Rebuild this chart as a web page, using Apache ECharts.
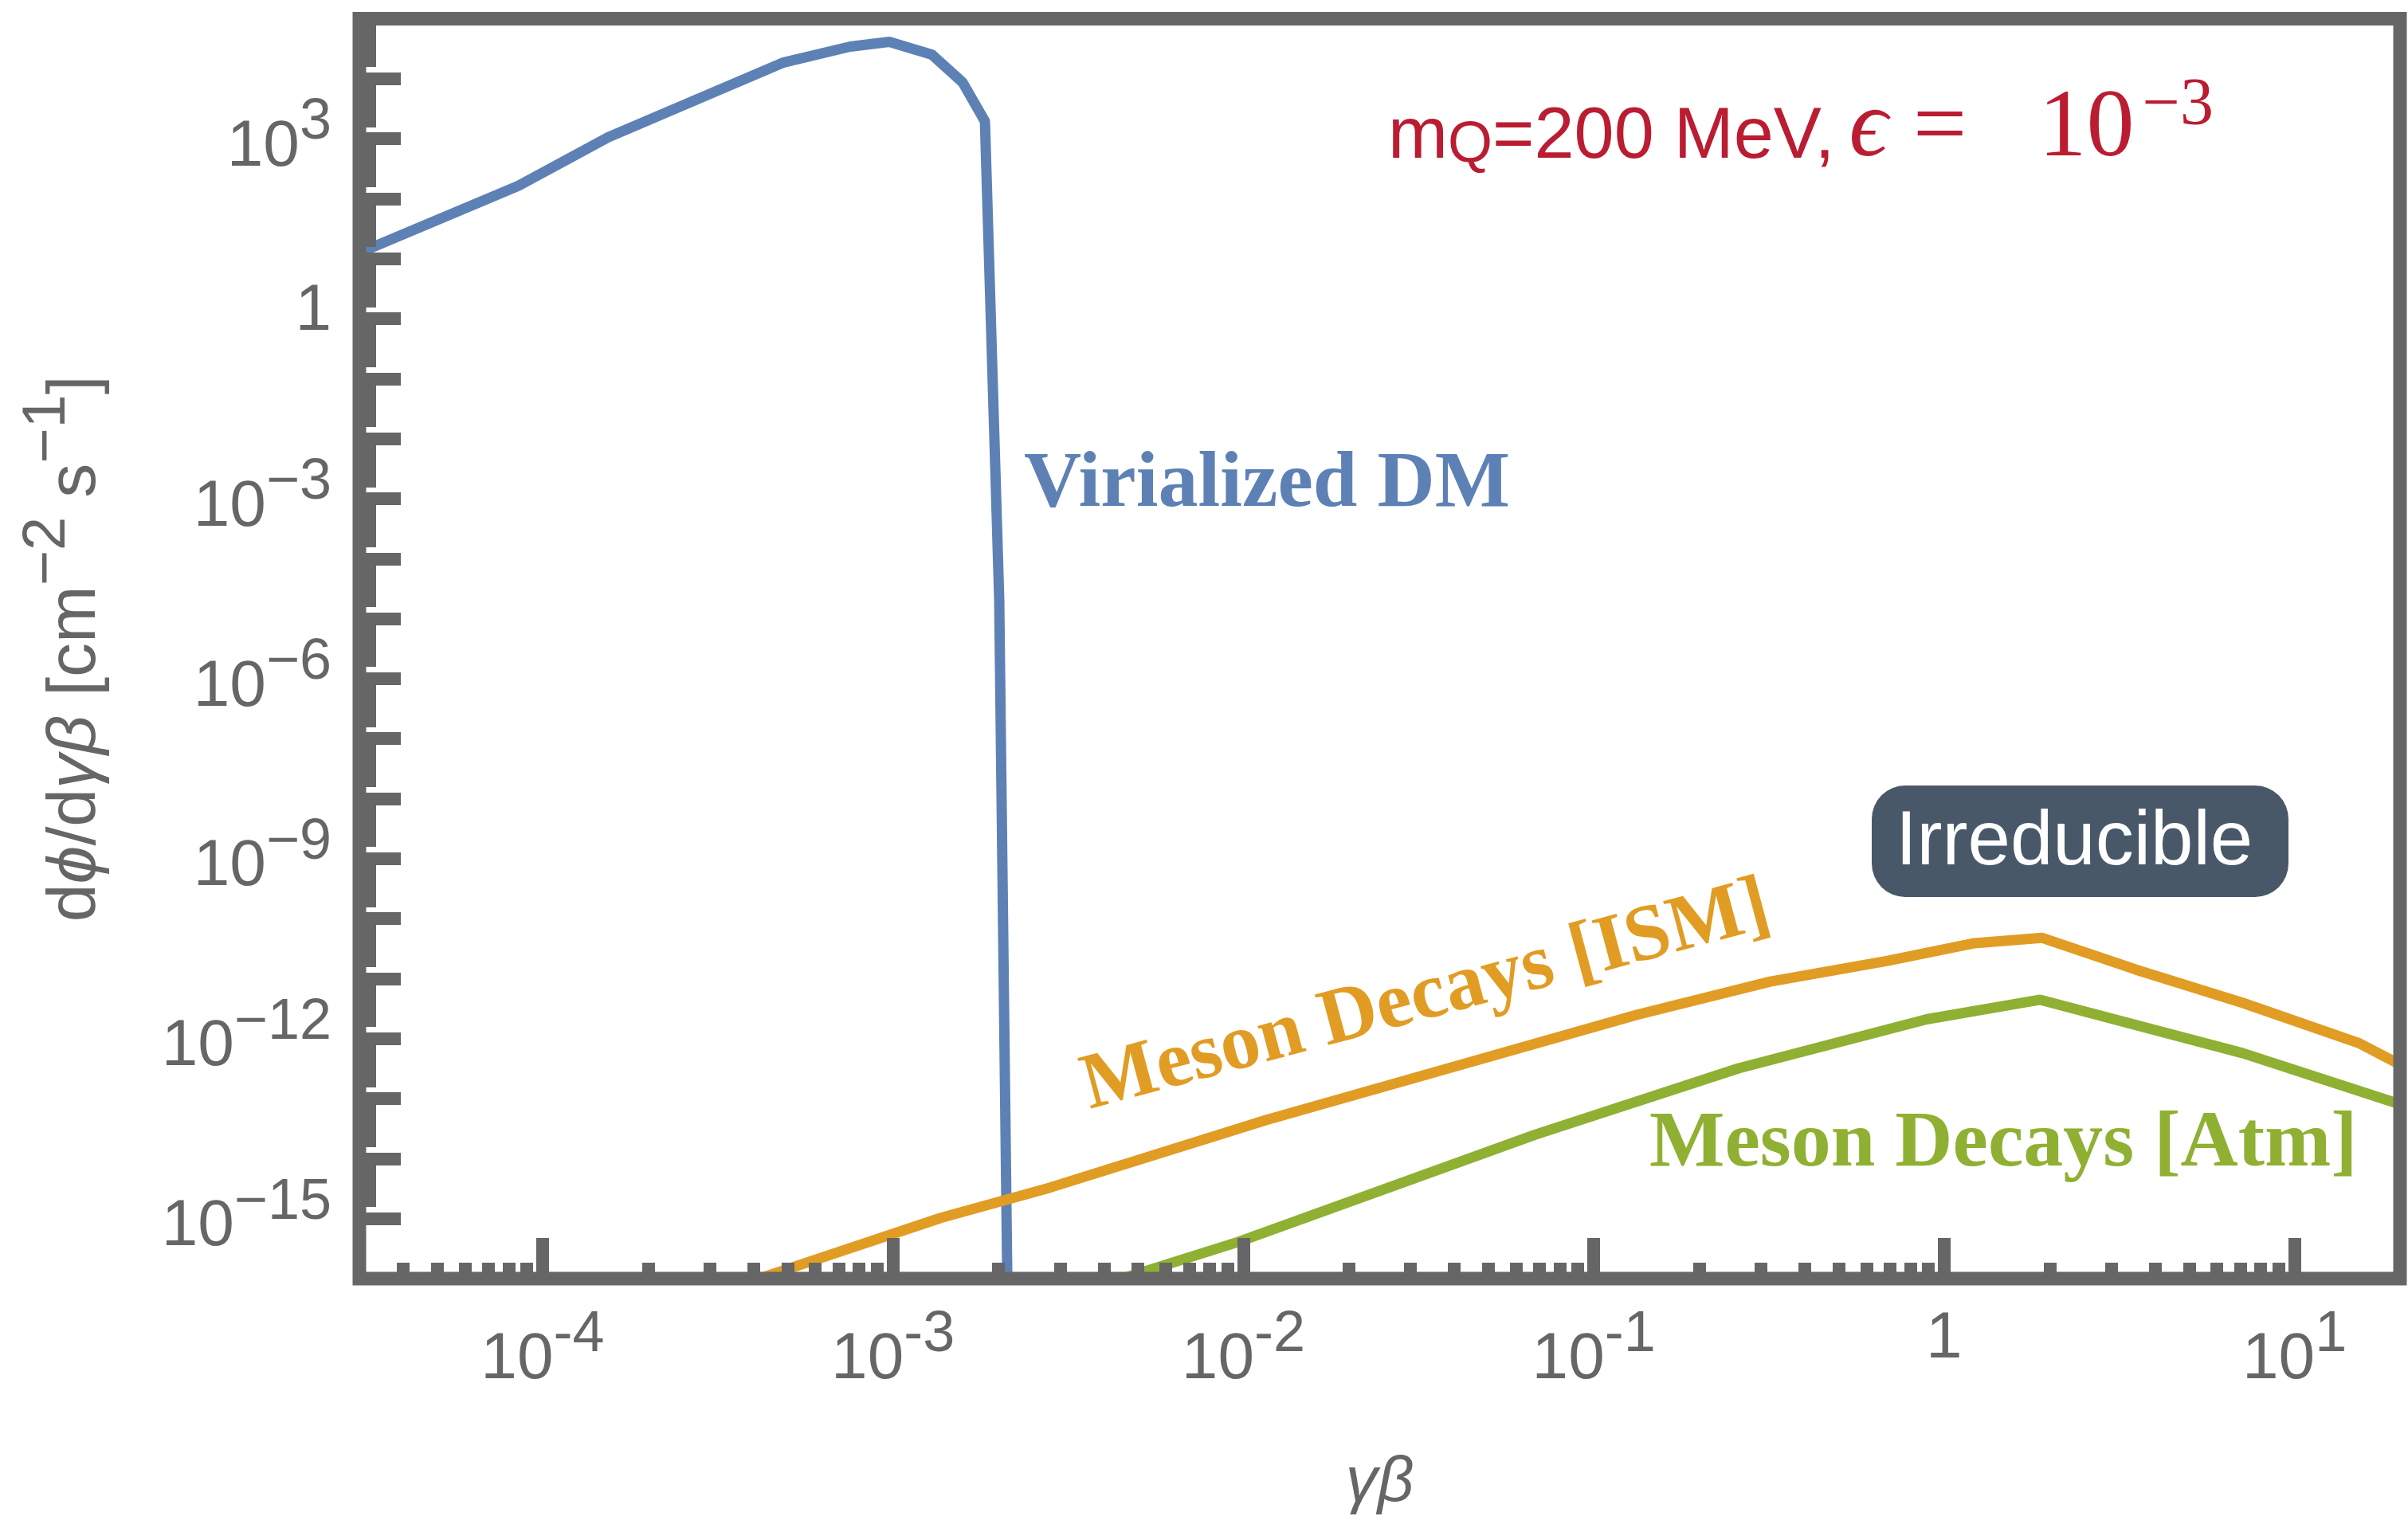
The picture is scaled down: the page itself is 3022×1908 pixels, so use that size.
<!DOCTYPE html>
<html>
<head>
<meta charset="utf-8">
<script src="https://cdn.jsdelivr.net/npm/echarts@6/dist/echarts.min.js"></script>
<style>
html,body{margin:0;padding:0;background:#ffffff;}
#chart{width:3022px;height:1908px;}
</style>
</head>
<body>
<div id="chart"></div>
<script>
// ---------------- data ----------------
const virialX = [3.0e-5, 8.53e-5, 1.54e-4, 4.88e-4, 7.55e-4, 9.76e-4, 1.29e-3, 1.58e-3, 1.83e-3, 2.01e-3, 2.12e-3];
const virialY = [12.6, 164, 1057, 1.87e4, 3.43e4, 4.12e4, 2.53e4, 8.7e3, 1.95e3, 2.1e-5, 9e-17];

const ismX = [3.9e-4, 1.37e-3, 2.81e-3, 1.16e-2, 0.133, 0.319, 0.689, 1.22, 1.90, 3.53, 7.13, 15.2, 20.2];
const ismY = [8.9e-17, 1.03e-15, 3.3e-15, 4.4e-14, 2.5e-12, 8.95e-12, 1.98e-11, 3.9e-11, 4.8e-11, 1.41e-11, 3.93e-12, 8.5e-13, 3.6e-13];

const atmX = [4.23e-3, 9.68e-3, 6.8e-2, 0.259, 0.891, 1.88, 7.13, 20.2];
const atmY = [8.9e-17, 4.1e-16, 2.5e-14, 3.2e-13, 2.1e-12, 4.45e-12, 5.7e-13, 7.9e-14];

// axis ranges and tick labels
const xMin = 3e-5, xMax = 20;
const yMin = 1e-16, yMax = 1e5;
const xLabelValues = [1e-4, 1e-3, 1e-2, 1e-1, 1, 10];
const yLabelValues = [1e-15, 1e-12, 1e-9, 1e-6, 1e-3, 1, 1e3];
const xDecades = [-5, -4, -3, -2, -1, 0, 1];
const yDecades = [-16, -15, -14, -13, -12, -11, -10, -9, -8, -7, -6, -5, -4, -3, -2, -1, 0, 1, 2, 3, 4, 5];
const yMinorDecades = [-15, -14, -13, -12, -11, -10, -9, -8, -7, -6, -5, -4, -3, -2, -1, 0, 1, 2, 3, 4];

// ---------------- helpers ----------------
const FRAME = '#666666';
const SANS = 'Liberation Sans';
const SERIF = 'Liberation Serif';
const RED = '#BA1C31';

function pairs(xs, ys) { return xs.map((x, i) => [x, ys[i]]); }
const xMajorTicks = xDecades.map(e => Math.pow(10, e)).filter(v => v >= xMin && v <= xMax);
const xMinorTicks = [];
xDecades.forEach(e => { for (let m = 2; m <= 9; m++) { const v = m * Math.pow(10, e); if (v > xMin && v < xMax) xMinorTicks.push(v); } });
const yMajorTicks = yDecades.map(e => Math.pow(10, e));
const yMinorTicks = [];
yMinorDecades.forEach(e => { for (let m = 2; m <= 9; m++) yMinorTicks.push(m * Math.pow(10, e)); });

function tickFormatter(minus) {
  return function (v) {
    const e = Math.round(Math.log10(v));
    if (e === 0) return '{one|1}';
    return '{b|10}{s|' + (e < 0 ? minus : '') + Math.abs(e) + '}';
  };
}
const tickRich = {
  b:   {fontSize: 82, fontFamily: SANS, color: FRAME, height: 82, padding: [0, 0, 4, 0], verticalAlign: 'bottom'},
  s:   {fontSize: 72, fontFamily: SANS, color: FRAME, height: 72, padding: [0, 0, 40, 0], verticalAlign: 'bottom'},
  one: {fontSize: 82, fontFamily: SANS, color: FRAME, height: 82, padding: [0, 0, 18, 0], verticalAlign: 'bottom'}
};
const titleRich = {
  n:  {fontSize: 86, fontFamily: SANS, color: FRAME, height: 86, padding: [0, 0, 5, 0], verticalAlign: 'bottom'},
  ni: {fontSize: 86, fontFamily: SANS, fontStyle: 'italic', color: FRAME, height: 86, padding: [0, 0, 5, 0], verticalAlign: 'bottom'},
  ns: {fontSize: 76, fontFamily: SANS, color: FRAME, height: 76, padding: [0, 0, 44.5, 0], verticalAlign: 'bottom'}
};

const chart = echarts.init(document.getElementById('chart'), null, {renderer: 'canvas'});

const option = {
  animation: false,
  backgroundColor: '#ffffff',
  grid: {
    left: 451, right: 10, top: 23.5, bottom: 303,
    show: true, borderWidth: 17, borderColor: FRAME, backgroundColor: 'transparent',
    z: 3, containLabel: false, outerBoundsMode: 'none'
  },
  xAxis: [
    {
      type: 'log', min: xMin, max: xMax, position: 'bottom', z: 4,
      axisLine: {show: false},
      axisTick: {show: true, inside: true, length: 51, customValues: xMajorTicks, lineStyle: {color: FRAME, width: 16, cap: 'butt'}},
      axisLabel: {show: true, margin: 35, customValues: xLabelValues, formatter: tickFormatter('-'), rich: tickRich},
      splitLine: {show: false}, minorTick: {show: false},
      name: 'γβ', nameLocation: 'middle', nameGap: 217,
      nameTextStyle: {fontSize: 80, fontFamily: SANS, fontStyle: 'italic', color: FRAME}
    },
    {
      type: 'log', min: xMin, max: xMax, position: 'bottom', z: 4,
      axisLine: {show: false},
      axisTick: {show: true, inside: true, length: 20, customValues: xMinorTicks, lineStyle: {color: FRAME, width: 16, cap: 'butt'}},
      axisLabel: {show: false}, splitLine: {show: false}
    }
  ],
  yAxis: [
    {
      type: 'log', min: yMin, max: yMax, position: 'left', z: 4,
      axisLine: {show: false},
      axisTick: {show: true, inside: true, length: 52, customValues: yMajorTicks, lineStyle: {color: FRAME, width: 16, cap: 'butt'}},
      axisLabel: {show: true, margin: 35, customValues: yLabelValues, formatter: tickFormatter('−'), rich: tickRich},
      splitLine: {show: false}, minorTick: {show: false},
      name: '{n|d}{ni|ϕ}{n|/d}{ni|γβ}{n| [cm}{ns|−2}{n| s}{ns|−1}{n|]}',
      nameLocation: 'middle', nameGap: 308, nameRotate: 90,
      nameTextStyle: {rich: titleRich}
    },
    {
      type: 'log', min: yMin, max: yMax, position: 'left', z: 4,
      axisLine: {show: false},
      axisTick: {show: true, inside: true, length: 21, customValues: yMinorTicks, lineStyle: {color: FRAME, width: 16, cap: 'butt'}},
      axisLabel: {show: false}, splitLine: {show: false}
    }
  ],
  series: [
    {
      name: 'Virialized DM', type: 'line', data: pairs(virialX, virialY),
      xAxisIndex: 0, yAxisIndex: 0, showSymbol: false, symbol: 'none', clip: true, z: 2, silent: true,
      lineStyle: {color: '#5E81B5', width: 13}
    },
    {
      name: 'Meson Decays [ISM]', type: 'line', data: pairs(ismX, ismY),
      xAxisIndex: 0, yAxisIndex: 0, showSymbol: false, symbol: 'none', clip: true, z: 2, silent: true,
      lineStyle: {color: '#E19C24', width: 13}
    },
    {
      name: 'Meson Decays [Atm]', type: 'line', data: pairs(atmX, atmY),
      xAxisIndex: 0, yAxisIndex: 0, showSymbol: false, symbol: 'none', clip: true, z: 2, silent: true,
      lineStyle: {color: '#8FB032', width: 13}
    }
  ],
  graphic: [
    {
      type: 'text', x: 1285, y: 609, z: 20, silent: true,
      style: {legacy: false, text: 'Virialized DM', fontSize: 100, fontWeight: 'bold', fontFamily: SERIF,
              fill: '#5E81B5', align: 'left', verticalAlign: 'middle'}
    },
    {
      type: 'text', x: 1790, y: 1252, rotation: 15 * Math.PI / 180, z: 20, silent: true,
      style: {legacy: false, text: 'Meson Decays [ISM]', fontSize: 100, fontWeight: 'bold', fontFamily: SERIF,
              fill: '#E19C24', align: 'center', verticalAlign: 'middle'}
    },
    {
      type: 'text', x: 2070, y: 1437, z: 20, silent: true,
      style: {legacy: false, text: 'Meson Decays [Atm]', fontSize: 100, fontWeight: 'bold', fontFamily: SERIF,
              fill: '#8FB032', align: 'left', verticalAlign: 'middle'}
    },
    {
      type: 'rect', z: 20, silent: true,
      shape: {x: 2349, y: 986, width: 523, height: 140, r: 42},
      style: {fill: '#495869'}
    },
    {
      type: 'text', x: 2603, y: 1059, z: 21, silent: true,
      style: {legacy: false, text: 'Irreducible', fontSize: 96, fontFamily: SANS, fill: '#ffffff',
              align: 'center', verticalAlign: 'middle'}
    },
    {
      type: 'text', x: 1742, y: 234, z: 20, silent: true,
      style: {
        legacy: false,
        text: '{a|m}{q|Q}{a|=200 MeV,}{e|ϵ}{eq|=}{f|10}{g|−3}',
        align: 'left', verticalAlign: 'bottom', fill: RED,
        rich: {
          a:  {fontSize: 90, fontFamily: SANS, fill: RED, height: 90, padding: [0, 0, 16.2, 0], verticalAlign: 'bottom'},
          q:  {fontSize: 72, fontFamily: SANS, fill: RED, height: 72, padding: [0, 0, 14.9, 0], verticalAlign: 'bottom'},
          e:  {fontSize: 120, fontFamily: SERIF, fontStyle: 'italic', fill: RED, height: 120, padding: [0, 0, 10.5, 18], verticalAlign: 'bottom'},
          eq: {fontSize: 120, fontFamily: SERIF, fill: RED, height: 120, padding: [0, 90, 10.5, 32], verticalAlign: 'bottom'},
          f:  {fontSize: 120, fontFamily: SERIF, fill: RED, height: 120, padding: [0, 0, 10.5, 0], verticalAlign: 'bottom'},
          g:  {fontSize: 84, fontFamily: SERIF, fill: RED, height: 84, padding: [0, 0, 58.4, 10], verticalAlign: 'bottom'}
        }
      }
    }
  ]
};
chart.setOption(option);
</script>
</body>
</html>
